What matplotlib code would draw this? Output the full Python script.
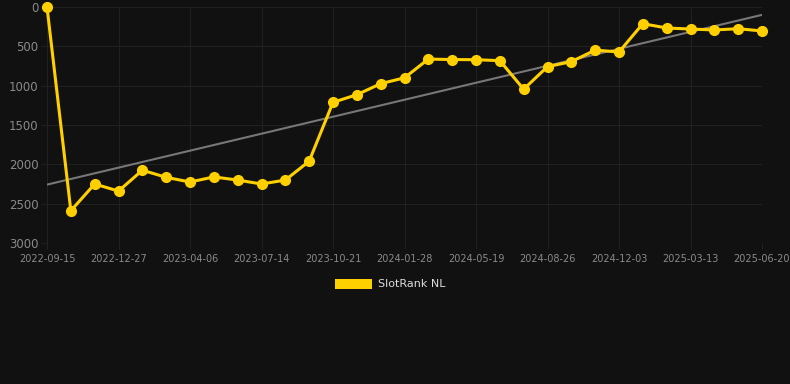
import matplotlib
matplotlib.use("Agg")
import matplotlib.pyplot as plt
import numpy as np

# rank per snapshot (lower is better)
ranks = [0, 2590, 2250, 2340, 2075, 2165, 2225, 2160, 2200, 2250, 2200, 1960,
         1212, 1115, 975, 900, 662, 668, 670, 682, 1045, 758, 695, 548, 572,
         212, 267, 280, 292, 276, 305]
tick_labels = ["2022-09-15", "2022-12-27", "2023-04-06", "2023-07-14", "2023-10-21",
               "2024-01-28", "2024-05-19", "2024-08-26", "2024-12-03", "2025-03-13",
               "2025-06-20"]
series_name = "SlotRank NL"

bg = "#111111"
gold = "#ffd000"
txt = "#8a8a8a"
grid = "#212121"

x = np.arange(len(ranks))
y = np.array(ranks, dtype=float)

fig = plt.figure(figsize=(7.9, 3.84), dpi=100, facecolor=bg)
ax = fig.add_axes([47/790, 1 - 243/384, (762 - 47)/790, (243 - 7)/384])
ax.set_facecolor(bg)

# linear trend
k, b = np.polyfit(x, y, 1)
ax.plot(x, k*x + b, color="#777777", lw=1.5, zorder=2)

ax.plot(x, y, color=gold, lw=2.2, marker="o", ms=7, clip_on=False, zorder=3,
        label=series_name)

ax.set_xlim(0, len(ranks) - 1)
ax.set_ylim(3000, 0)
ax.set_yticks(range(0, 3001, 500))
ax.set_xticks(x[::3])
ax.set_xticklabels(tick_labels)
ax.grid(True, color=grid, lw=0.8)
for s in ax.spines.values():
    s.set_visible(False)
ax.tick_params(axis="y", colors=txt, labelsize=8.5, length=4, color=grid, pad=2)
ax.tick_params(axis="x", colors=txt, labelsize=7, length=4, color=grid, pad=4)
for t in ax.get_xticklabels() + ax.get_yticklabels():
    t.set_color(txt)

leg = fig.legend(handles=[plt.Rectangle((0, 0), 1, 1, fc=gold)], labels=[series_name],
                 loc="center", bbox_to_anchor=(390/790, 1 - 284/384), frameon=False,
                 handlelength=3.4, handleheight=1.0, handletextpad=0.5, fontsize=8)
for t in leg.get_texts():
    t.set_color("#dddddd")

fig.savefig("out.png", dpi=100, facecolor=bg)
